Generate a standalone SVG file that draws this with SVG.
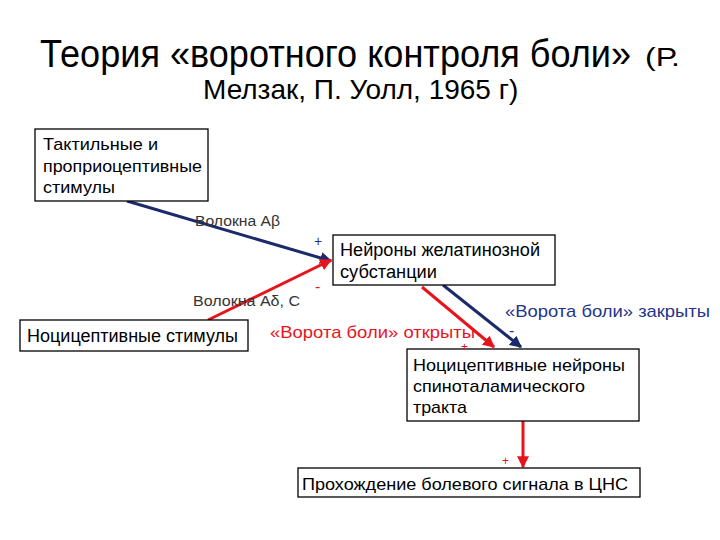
<svg xmlns="http://www.w3.org/2000/svg" width="720" height="540" viewBox="0 0 720 540">
<defs>
<style>
.box{fill:#fff;stroke:#000;stroke-width:1.3}
.t{font-family:"Liberation Sans",Arial,sans-serif;fill:#000}
.lbl{font-size:14px;fill:#333}
.red{fill:#e8141c}
.navy{fill:#22358a}
.cr{stroke:#e8141c;stroke-width:3;fill:none}
.cb{stroke:#1a2a6a;stroke-width:3;fill:none}
</style>
<marker id="ar" viewBox="0 0 10 10" refX="9" refY="5" markerWidth="4" markerHeight="4" orient="auto" markerUnits="strokeWidth"><path d="M0,0 L10,5 L0,10 z" fill="#e8141c"/></marker>
<marker id="ab" viewBox="0 0 10 10" refX="9" refY="5" markerWidth="4" markerHeight="4" orient="auto" markerUnits="strokeWidth"><path d="M0,0 L10,5 L0,10 z" fill="#1a2a6a"/></marker>
</defs>
<rect width="720" height="540" fill="#fff"/>
<g id="title">
<text class="t" font-size="38" transform="translate(40 67) scale(0.95 1)">Теория «воротного контроля боли»</text>
<text class="t" x="645" y="66" font-size="25" textLength="35" lengthAdjust="spacingAndGlyphs">(Р.</text>
<text class="t" font-size="28" x="203" y="99">Мелзак, П. Уолл, 1965 г)</text>
</g>
<g id="connectors">
<line class="cb" x1="127" y1="201" x2="331" y2="261" marker-end="url(#ab)"/>
<line class="cr" x1="208" y1="320" x2="331" y2="260" marker-end="url(#ar)"/>
<line class="cr" x1="422" y1="287" x2="494" y2="347" marker-end="url(#ar)"/>
<line class="cb" x1="443" y1="285" x2="521" y2="347" marker-end="url(#ab)"/>
<line class="cr" x1="523" y1="421" x2="523" y2="467" marker-end="url(#ar)"/>
</g>
<g id="tactile">
<rect class="box" x="35" y="129" width="173" height="72"/>
<text class="t" font-size="17" x="43" y="150" textLength="115" lengthAdjust="spacingAndGlyphs">Тактильные и</text>
<text class="t" font-size="17" x="43" y="172" textLength="159" lengthAdjust="spacingAndGlyphs">проприоцептивные</text>
<text class="t" font-size="17" x="43" y="193" textLength="72" lengthAdjust="spacingAndGlyphs">стимулы</text>
</g>
<g id="gelatinosa">
<rect class="box" x="333" y="235" width="222" height="50"/>
<text class="t" font-size="18" x="340" y="256" textLength="200" lengthAdjust="spacingAndGlyphs">Нейроны желатинозной</text>
<text class="t" font-size="18" x="340" y="278" textLength="97" lengthAdjust="spacingAndGlyphs">субстанции</text>
</g>
<g id="nociceptive">
<rect class="box" x="20" y="320" width="228" height="31"/>
<text class="t" font-size="18" x="27" y="342" textLength="211" lengthAdjust="spacingAndGlyphs">Ноцицептивные стимулы</text>
</g>
<g id="spinothalamic">
<rect class="box" x="407" y="349" width="232" height="72"/>
<text class="t" font-size="17" x="413" y="371" textLength="212" lengthAdjust="spacingAndGlyphs">Ноцицептивные нейроны</text>
<text class="t" font-size="17" x="413" y="392" textLength="172" lengthAdjust="spacingAndGlyphs">спиноталамического</text>
<text class="t" font-size="17" x="413" y="413" textLength="54" lengthAdjust="spacingAndGlyphs">тракта</text>
</g>
<g id="cns">
<rect class="box" x="298" y="468" width="342" height="29"/>
<text class="t" font-size="17" x="302" y="490" textLength="326" lengthAdjust="spacingAndGlyphs">Прохождение болевого сигнала в ЦНС</text>
</g>
<g id="labels">
<text class="t lbl" x="195" y="226" textLength="85" lengthAdjust="spacingAndGlyphs">Волокна Аβ</text>
<text class="t lbl" x="193" y="306" textLength="107" lengthAdjust="spacingAndGlyphs">Волокна Аδ, С</text>
<text class="t navy" x="314" y="246" font-size="14">+</text>
<text class="t red" x="315" y="292" font-size="16">-</text>
<text class="t navy" x="505" y="317" font-size="17" textLength="205" lengthAdjust="spacingAndGlyphs">«Ворота боли»  закрыты</text>
<text class="t navy" x="509" y="336" font-size="16">-</text>
<text class="t red" x="270" y="338" font-size="17" textLength="205" lengthAdjust="spacingAndGlyphs">«Ворота боли»  открыты</text>
<text class="t red" x="461" y="351" font-size="12">+</text>
<text class="t red" x="502" y="465" font-size="12">+</text>
</g>
</svg>
